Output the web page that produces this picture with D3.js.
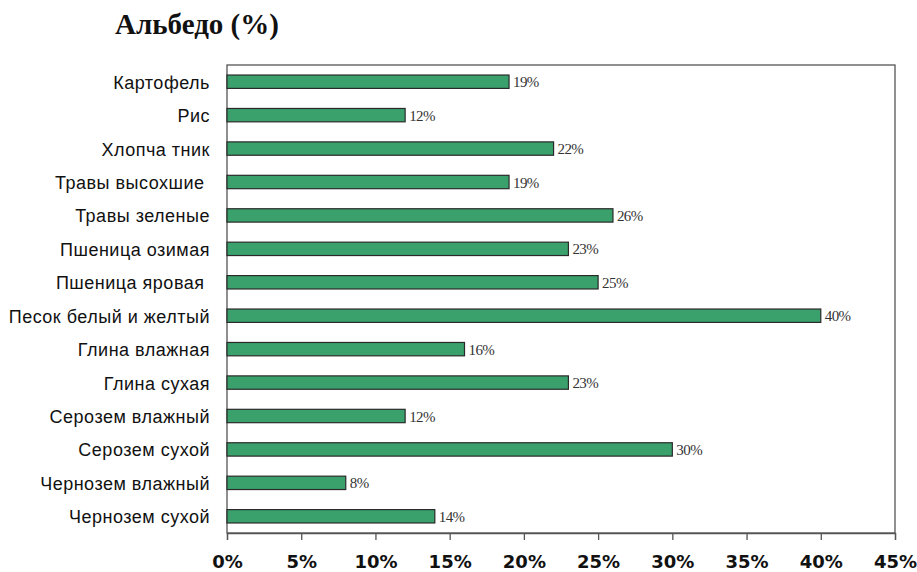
<!DOCTYPE html>
<html><head><meta charset="utf-8">
<script src="https://cdn.jsdelivr.net/npm/d3@7"></script>
<style>body{margin:0;background:#fff}svg{display:block}</style>
</head><body>
<script>
const categories = ["Картофель","Рис","Хлопча тник","Травы высохшие ","Травы зеленые","Пшеница озимая","Пшеница яровая ","Песок белый и желтый","Глина влажная","Глина сухая","Серозем влажный","Серозем сухой","Чернозем влажный","Чернозем сухой"];
const values = [19,12,22,19,26,23,25,40,16,23,12,30,8,14];
const tickValues = [0,5,10,15,20,25,30,35,40,45];
const title = "Альбедо (%)";

const W = 917, H = 572;
const m = {left:227, right:22, top:65, bottom:39};
const svg = d3.select("body").append("svg").attr("width",W).attr("height",H);
const x = d3.scaleLinear().domain([0,45]).range([m.left, W-m.right]);
const y = d3.scaleBand().domain(categories).range([m.top, H-m.bottom]).paddingInner(0.6).paddingOuter(0.3);

svg.append("text").attr("x",115).attr("y",34).text(title)
  .attr("font-family","Liberation Serif, Times New Roman, serif").attr("font-weight","bold").attr("font-size",29).attr("fill","#111");

// frame
svg.append("rect").attr("x",m.left).attr("y",m.top).attr("width",x(45)-m.left).attr("height",H-m.bottom-m.top)
  .attr("fill","none").attr("stroke","#555").attr("stroke-width",1.3);

svg.selectAll("rect.bar").data(values).enter().append("rect").attr("class","bar")
  .attr("x",x(0)).attr("y",(d,i)=>y(categories[i])).attr("width",d=>x(d)-x(0)).attr("height",y.bandwidth())
  .attr("fill","#3aa06c").attr("stroke","#2a2a2a").attr("stroke-width",1.2);

svg.selectAll("text.val").data(values).enter().append("text").attr("class","val")
  .attr("x",d=>x(d)+4).attr("y",(d,i)=>y(categories[i])+y.bandwidth()/2+5.5)
  .text(d=>d+"%").attr("font-family","Liberation Serif, Times New Roman, serif").attr("font-size",15).attr("fill","#333").attr("letter-spacing","-0.6");

svg.selectAll("text.cat").data(categories).enter().append("text").attr("class","cat")
  .attr("x",210).attr("y",d=>y(d)+y.bandwidth()/2+7).attr("text-anchor","end").style("white-space","pre")
  .text(d=>d).attr("font-family","Liberation Sans, Arial, sans-serif").attr("font-size",18).attr("letter-spacing","0.5").attr("fill","#111");

const ax = svg.append("g").attr("transform",`translate(0,${H-m.bottom})`)
  .call(d3.axisBottom(x).tickValues(tickValues).tickFormat(d=>d+"%").tickSize(7).tickPadding(15));
ax.select(".domain").attr("stroke","#555").attr("stroke-width",1.3);
ax.selectAll(".tick line").attr("stroke","#555").attr("stroke-width",1.3);
ax.selectAll(".tick text").attr("font-family","DejaVu Sans, Verdana, sans-serif").attr("font-weight","bold").attr("font-size",18).attr("fill","#111");
</script>
</body></html>
